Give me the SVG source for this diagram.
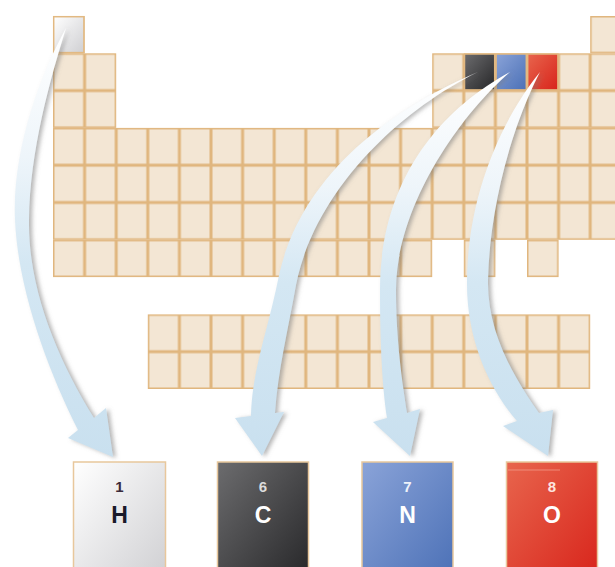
<svg xmlns="http://www.w3.org/2000/svg" width="615" height="567" viewBox="0 0 615 567">
<style>
.num{font-family:"Liberation Sans",Arial,sans-serif;font-size:15px;font-weight:bold;text-anchor:middle}
.sym{font-family:"Liberation Sans",Arial,sans-serif;font-size:23px;font-weight:bold;text-anchor:middle}
.box{stroke:#E8C79C;stroke-width:1.5}
.hc{stroke:#E2B982;stroke-width:1.5}
.arrow{fill:url(#arrowGrad);filter:url(#sh)}
</style>
<defs>
<pattern id="cellp" patternUnits="userSpaceOnUse" x="53" y="16" width="31.6" height="37.3">
<rect width="31.6" height="37.3" fill="#F3E6D4" stroke="#E0B67E" stroke-width="3"/>
</pattern>
<linearGradient id="gH" x1="0" y1="0" x2="1" y2="1"><stop offset="0" stop-color="#ffffff"/><stop offset="1" stop-color="#cfcfd2"/></linearGradient>
<linearGradient id="gC" x1="0" y1="0" x2="1" y2="1"><stop offset="0" stop-color="#6c6c6e"/><stop offset="1" stop-color="#262628"/></linearGradient>
<linearGradient id="gN" x1="0" y1="0" x2="1" y2="1"><stop offset="0" stop-color="#8aa3d8"/><stop offset="1" stop-color="#4b70b6"/></linearGradient>
<linearGradient id="gO" x1="0" y1="0" x2="1" y2="1"><stop offset="0" stop-color="#e8654d"/><stop offset="1" stop-color="#d8241b"/></linearGradient>
<linearGradient id="arrowGrad" x1="0" y1="0" x2="0" y2="1">
<stop offset="0" stop-color="#ffffff"/><stop offset="0.3" stop-color="#eef5fa"/><stop offset="0.55" stop-color="#d4e7f3"/><stop offset="1" stop-color="#c9e0ef"/>
</linearGradient>
<filter id="sh" x="-20%" y="-10%" width="150%" height="130%">
<feGaussianBlur in="SourceAlpha" stdDeviation="2"/>
<feOffset dx="3" dy="1" result="b"/>
<feFlood flood-color="#7a7a7a" flood-opacity="0.55"/>
<feComposite in2="b" operator="in" result="s"/>
<feMerge><feMergeNode in="s"/><feMergeNode in="SourceGraphic"/></feMerge>
</filter>
</defs>
<rect width="615" height="567" fill="#ffffff"/>
<g id="table" fill="url(#cellp)">
<rect x="53" y="16" width="31.6" height="37.3"/>
<rect x="590.2" y="16" width="31.6" height="37.3"/>
<rect x="53" y="53.3" width="63.2" height="74.6"/>
<rect x="432.2" y="53.3" width="189.6" height="74.6"/>
<rect x="53" y="127.9" width="568.8" height="111.9"/>
<rect x="53" y="239.8" width="379.2" height="37.3"/>
<rect x="463.8" y="239.8" width="31.6" height="37.3"/>
<rect x="527" y="239.8" width="31.6" height="37.3"/>
<rect x="147.8" y="314.4" width="442.4" height="74.6"/>
</g>
<g id="cell-H"><rect class="hc" x="53.7" y="16.7" width="30.2" height="35.9" fill="url(#gH)"/></g>
<g id="cell-C"><rect class="hc" x="464.5" y="54" width="30.2" height="35.9" fill="url(#gC)"/></g>
<g id="cell-N"><rect class="hc" x="496.1" y="54" width="30.2" height="35.9" fill="url(#gN)"/></g>
<g id="cell-O"><rect class="hc" x="527.7" y="54" width="30.2" height="35.9" fill="url(#gO)"/></g>
<g id="connectors">
<path class="arrow" d="M66,28 C40,75 12,150 15,220 C18,290 48,370 78,430 L68,438 L113,457 L106,408 L94,418 C58,360 28,290 29,220 C30,150 50,80 66,28 Z"/>
<path class="arrow" d="M478,72 C400,105 300,170 278,280 C268,330 252,370 251,416 L235,418 L262,456 L284,412 L275,413 C278,370 288,330 296,285 C315,190 400,110 478,72 Z"/>
<path class="arrow" d="M510,72 C440,110 380,180 380,290 C380,340 382,385 387,418 L373,422 L410,456 L420,409 L407,413 C402,380 396,340 396,290 C396,210 455,120 510,72 Z"/>
<path class="arrow" d="M540,72 C505,115 468,190 467,280 C466,340 490,390 517,421 L503,426 L548,456 L553,410 L539,413 C512,375 487,330 488,280 C490,200 515,120 540,72 Z"/>
</g>
<g id="box-H">
<rect class="box" x="73.5" y="462" width="92" height="120" fill="url(#gH)"/>
<text class="num" x="119.5" y="492" fill="#3a2a3a">1</text>
<text class="sym" x="119.5" y="523" fill="#1a1a2a">H</text>
</g>
<g id="box-C">
<rect class="box" x="217.5" y="462" width="91" height="120" fill="url(#gC)"/>
<text class="num" x="263" y="492" fill="#dcdcdc">6</text>
<text class="sym" x="263" y="523" fill="#ffffff">C</text>
</g>
<g id="box-N">
<rect class="box" x="362" y="462" width="91" height="120" fill="url(#gN)"/>
<text class="num" x="407.5" y="492" fill="#eef2fa">7</text>
<text class="sym" x="407.5" y="523" fill="#ffffff">N</text>
</g>
<g id="box-O">
<rect class="box" x="506.5" y="462" width="91" height="120" fill="url(#gO)"/>
<line x1="508" y1="470" x2="560" y2="470" stroke="#f29a88" stroke-width="0.8"/>
<text class="num" x="552" y="492" fill="#fde4e0">8</text>
<text class="sym" x="552" y="523" fill="#ffffff">O</text>
</g>
</svg>
